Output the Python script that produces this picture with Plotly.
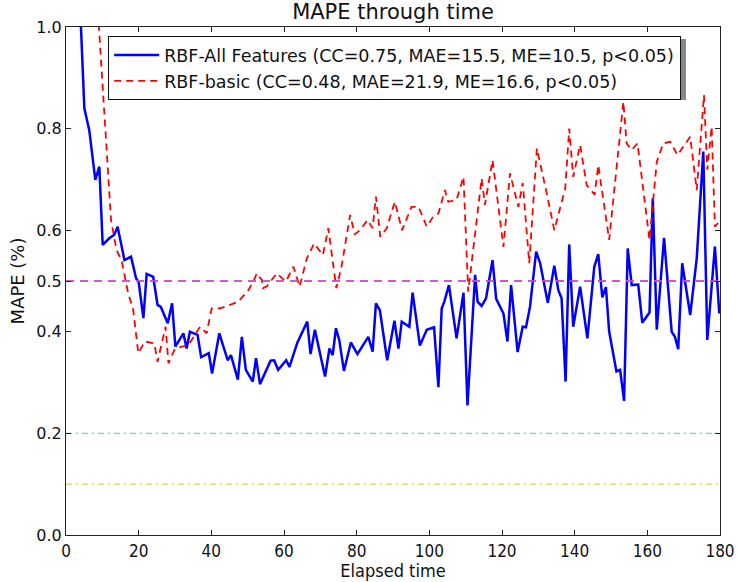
import plotly.graph_objects as go

# ---- data ----
all_x = [4.0, 5.05, 6.4, 8.07, 9.17, 10.1, 11.9, 13.3, 14.2, 16.1, 17.9, 19.3, 20.0, 21.3, 22.2,
         24.0, 25.2, 26.1, 28.0, 29.2, 30.1, 32.3, 33.2, 34.1, 36.2, 37.2, 39.3, 40.2, 42.2, 44.5,
         45.4, 47.3, 48.4, 49.5, 51.4, 52.3, 53.4, 56.3, 57.3, 58.4, 60.6, 61.5, 63.7, 66.4, 67.3,
         68.5, 71.3, 72.5, 73.4, 74.3, 75.2, 76.5, 78.4, 80.2, 83.2, 84.4, 85.3, 86.4, 88.4, 90.4,
         91.5, 92.4, 94.5, 95.4, 97.4, 99.3, 101.3, 102.5, 103.4, 104.1, 105.4, 107.5, 109.4, 110.5,
         112.6, 113.3, 114.4, 115.6, 117.4, 118.4, 120.4, 121.5, 122.5, 124.3, 125.7, 126.6, 127.7,
         129.4, 130.5, 132.6, 134.4, 135.5, 136.4, 137.5, 138.5, 139.6, 141.5, 143.5, 145.4, 146.5,
         147.6, 148.6, 149.5, 151.5, 152.5, 153.6, 154.6, 155.7, 157.5, 158.6, 160.6, 161.5, 162.6,
         164.6, 166.7, 167.6, 168.5, 169.6, 171.8, 173.6, 175.4, 176.5, 178.6, 179.8]
all_y = [1.02, 0.84, 0.797, 0.699, 0.725, 0.571, 0.584, 0.591, 0.607, 0.541, 0.548, 0.505, 0.498, 0.427, 0.514,
         0.508, 0.453, 0.449, 0.417, 0.456, 0.371, 0.397, 0.367, 0.400, 0.394, 0.350, 0.358, 0.318, 0.397, 0.344,
         0.354, 0.306, 0.390, 0.325, 0.302, 0.348, 0.297, 0.343, 0.344, 0.325, 0.344, 0.331, 0.379, 0.420, 0.356,
         0.404, 0.312, 0.367, 0.354, 0.407, 0.384, 0.323, 0.379, 0.356, 0.390, 0.361, 0.456, 0.442, 0.344, 0.422,
         0.367, 0.420, 0.410, 0.477, 0.373, 0.404, 0.409, 0.291, 0.446, 0.459, 0.492, 0.387, 0.477, 0.255,
         0.512, 0.459, 0.451, 0.466, 0.541, 0.465, 0.436, 0.381, 0.492, 0.360, 0.410, 0.409, 0.449,
         0.558, 0.535, 0.457, 0.530, 0.482, 0.466, 0.302, 0.572, 0.410, 0.489, 0.387, 0.528, 0.553,
         0.468, 0.488, 0.400, 0.322, 0.325, 0.264, 0.564, 0.492, 0.493, 0.418, 0.438, 0.663, 0.404,
         0.585, 0.400, 0.390, 0.366, 0.535, 0.433, 0.545, 0.755, 0.384, 0.568, 0.436]

basic_x = [8.8, 12.4, 13.9, 15.3, 17.1, 18.5, 19.9, 21.7, 24.3, 25.2, 27.4, 28.2, 30.0, 33.7, 36.9,
           38.7, 40.1, 42.4, 47.4, 50.2, 51.6, 52.5, 53.9, 54.2, 55.2, 58.0, 60.5, 62.6, 64.3, 66.3,
           68.3, 70.7, 72.2, 74.4, 75.8, 77.3, 78.2, 79.5, 80.9, 83.0, 84.4, 85.3, 86.5, 88.3, 90.5,
           92.5, 95.1, 97.0, 99.3, 101.1, 102.5, 104.3, 105.2, 107.5, 109.4, 110.7, 114.4, 115.3, 117.4,
           120.4, 122.2, 124.5, 125.7, 127.5, 129.6, 132.3, 134.4, 137.4, 138.5, 139.6, 141.5, 143.3,
           145.5, 146.5, 147.7, 149.5, 153.4, 154.3, 155.7, 157.3, 160.6, 162.6, 164.4, 166.3, 168.3,
           171.8, 173.6, 175.6, 176.5, 177.7, 178.6, 179.8]
basic_y = [1.03, 0.62, 0.561, 0.541, 0.476, 0.443, 0.358, 0.381, 0.377, 0.341, 0.410, 0.338, 0.367, 0.374, 0.410,
           0.397, 0.446, 0.446, 0.459, 0.482, 0.499, 0.515, 0.502, 0.486, 0.489, 0.515, 0.499, 0.528, 0.489, 0.545,
           0.574, 0.551, 0.604, 0.486, 0.527, 0.594, 0.630, 0.592, 0.600, 0.620, 0.604, 0.666, 0.587, 0.604, 0.656,
           0.600, 0.646, 0.646, 0.607, 0.627, 0.633, 0.679, 0.656, 0.660, 0.705, 0.479, 0.702, 0.650, 0.738,
           0.567, 0.712, 0.646, 0.693, 0.535, 0.761, 0.673, 0.600, 0.682, 0.800, 0.705, 0.768, 0.689,
           0.670, 0.728, 0.666, 0.581, 0.853, 0.771, 0.758, 0.771, 0.581, 0.735, 0.771, 0.774, 0.748,
           0.784, 0.679, 0.866, 0.719, 0.804, 0.607, 0.617]

ref_levels = [0.5, 0.2, 0.1]
ref_colors = ["rgba(204,68,204,0.9)", "rgba(95,205,205,0.9)", "rgba(210,210,60,0.9)"]
ref_dash = ["dash", "dashdot", "dashdot"]

x_ticks = [0, 20, 40, 60, 80, 100, 120, 140, 160, 180]
y_ticks = [0.0, 0.2, 0.4, 0.5, 0.6, 0.8, 1.0]
y_tick_text = ["0.0", "0.2", "0.4", "0.5", "0.6", "0.8", "1.0"]

name_all = "RBF-All Features (CC=0.75, MAE=15.5, ME=10.5, p<0.05)"
name_basic = "RBF-basic (CC=0.48, MAE=21.9, ME=16.6, p<0.05)"

fig = go.Figure()
fig.add_trace(go.Scatter(x=all_x, y=all_y, mode="lines", name=name_all,
                         line=dict(color="#0000ff", width=2.5)))
fig.add_trace(go.Scatter(x=basic_x, y=basic_y, mode="lines", name=name_basic,
                         line=dict(color="#ff0000", width=1.8, dash="7px,5px")))
for lvl, col, dsh in zip(ref_levels, ref_colors, ref_dash):
    fig.add_trace(go.Scatter(x=[0, 180], y=[lvl, lvl], mode="lines", showlegend=False,
                             line=dict(color=col, width=2 if lvl == 0.5 else 1.2,
                                       dash="8px,6px" if dsh == "dash" else "6px,4px,2px,4px")))

# legend shadow
fig.add_shape(type="rect", xref="paper", yref="paper",
              x0=(111 - 66) / 654, x1=(686 - 66) / 654,
              y0=(535 - 100) / 508, y1=(535 - 39) / 508,
              fillcolor="#888888", line=dict(width=0), layer="above")

narrow = "Liberation Sans Narrow, DejaVu Sans Condensed, DejaVu Sans"
axis_common = dict(showgrid=False, zeroline=False, showline=True, linecolor="#222",
                   linewidth=1.2, mirror="ticks", ticks="inside", ticklen=5,
                   tickcolor="#222", automargin=False)

fig.update_layout(
    width=738, height=582,
    margin=dict(l=66, r=18, t=27, b=47),
    paper_bgcolor="white", plot_bgcolor="white",
    font=dict(family="DejaVu Sans", size=15, color="#111"),
    title=dict(text="MAPE through time", x=(66 + 720) / 2 / 738, xanchor="center",
               y=1 - 12 / 582, yanchor="middle", font=dict(size=21), automargin=False),
    xaxis=dict(range=[0, 180], tickvals=x_ticks,
               title=dict(text="Elapsed time", standoff=2, font=dict(family=narrow, size=18)),
               tickfont=dict(family=narrow, size=17), **axis_common),
    yaxis=dict(range=[0, 1.0], tickvals=y_ticks, ticktext=y_tick_text,
               title=dict(text="MAPE (%)", standoff=6, font=dict(size=18)),
               tickfont=dict(size=16), **axis_common),
    legend=dict(x=(108 - 66) / 654, y=(535 - 36) / 508, xanchor="left", yanchor="top",
                bgcolor="white", bordercolor="#111", borderwidth=1.2,
                font=dict(size=17.5), tracegroupgap=0, itemwidth=45),
    showlegend=True,
)

fig.write_html("out.html", config={"displayModeBar": False},
               post_script="document.body.style.margin='0px';document.body.style.padding='0px';")
